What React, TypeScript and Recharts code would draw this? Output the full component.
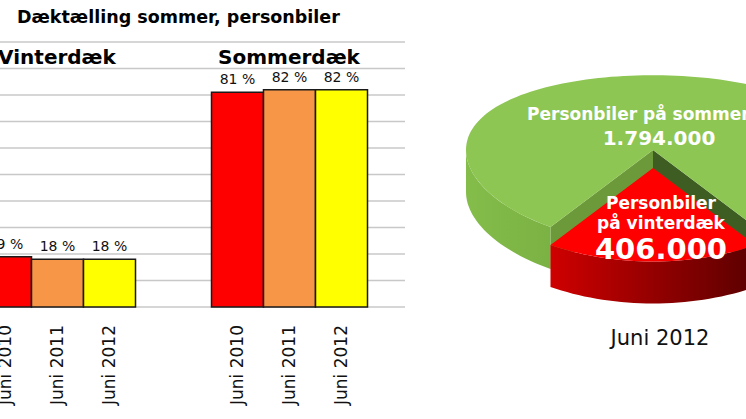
import { BarChart, Bar, XAxis, YAxis, CartesianGrid, LabelList, PieChart, Pie, Cell } from "recharts";

const TITLE = "Dæktælling sommer, personbiler";
const GROUPS = ["Vinterdæk", "Sommerdæk"];
const YEARS = ["Juni 2010", "Juni 2011", "Juni 2012"];
const SHARE_2010 = [19, 81];
const SHARE_2011 = [18, 82];
const SHARE_2012 = [18, 82];
const Y_TICKS = [0, 10, 20, 30, 40, 50, 60, 70, 80, 90, 100];

const PIE_NAMES = ["Personbiler på sommerdæk", "Personbiler på vinterdæk"];
const PIE_VALUES = [1794000, 406000];
const PIE_CAPTION = "Juni 2012";

const BAR_COLORS = ["#FF0000", "#F79646", "#FFFF00"];
const FONT = "'DejaVu Sans', Verdana, sans-serif";

const SLICE_STYLE = [
  { top: "#8DC652", side: ["#84bd4a", "#5c8b2e"], startFace: "#3e5d22", endFace: "#6c9a3b" },
  { top: "#FF0000", side: ["#ff0000", "#2a0000"], startFace: "#800000", endFace: "#800000" },
];

const barData = GROUPS.map((group, i) => ({
  group,
  y2010: SHARE_2010[i],
  y2011: SHARE_2011[i],
  y2012: SHARE_2012[i],
}));

const pieData = PIE_NAMES.map((name, i) => ({ name, value: PIE_VALUES[i] }));

// pseudo-3D pie: tilt, depth and explode for the exploded slice
const RAD = Math.PI / 180;
const K0 = 0.45;
const K1 = 0.05;
const DEPTH = 42;
const EXPLODE = 36;

function project(ox: number, oy: number, a: number, r: number, d = 0): [number, number] {
  const s = Math.sin(a * RAD);
  return [ox + r * Math.cos(a * RAD), oy - r * s * (K0 - K1 * s) + d];
}

function arc(ox: number, oy: number, r: number, a0: number, a1: number, d = 0) {
  const n = Math.max(2, Math.ceil(Math.abs(a1 - a0) / 2));
  const pts: [number, number][] = [];
  for (let i = 0; i <= n; i++) pts.push(project(ox, oy, a0 + ((a1 - a0) * i) / n, r, d));
  return pts;
}

function toPath(pts: [number, number][]) {
  return pts.map((p, i) => `${i ? "L" : "M"}${p[0].toFixed(2)},${p[1].toFixed(2)}`).join("") + "Z";
}

function frontRanges(a0: number, a1: number) {
  const out: [number, number][] = [];
  for (let n = -1; n <= 1; n++) {
    const lo = Math.max(a0, 180 + 360 * n);
    const hi = Math.min(a1, 360 + 360 * n);
    if (hi > lo) out.push([lo, hi]);
  }
  return out;
}

function sliceOrigin(cx: number, cy: number, mid: number, index: number): [number, number] {
  if (index !== 1) return [cx, cy];
  const [ex, ey] = project(0, 0, mid, EXPLODE);
  return [cx + ex, cy + ey];
}

function Slice3D(props: any) {
  const { cx, cy, outerRadius: r, startAngle, endAngle, index } = props;
  const a0 = Math.min(startAngle, endAngle);
  const a1 = Math.max(startAngle, endAngle);
  const [ox, oy] = sliceOrigin(cx, cy, (a0 + a1) / 2, index);
  const st = SLICE_STYLE[index] ?? SLICE_STYLE[0];
  const gid = `side-grad-${index}`;
  const face = (a: number) =>
    toPath([[ox, oy], project(ox, oy, a, r), project(ox, oy, a, r, DEPTH), [ox, oy + DEPTH]]);
  return (
    <g>
      <defs>
        <linearGradient id={gid} gradientUnits="userSpaceOnUse" x1={cx - r} y1={0} x2={cx + r} y2={0}>
          <stop offset="0%" stopColor={st.side[0]} />
          <stop offset="100%" stopColor={st.side[1]} />
        </linearGradient>
      </defs>
      {Math.cos(a0 * RAD) > 0 && <path d={face(a0)} fill={st.startFace} />}
      {Math.cos(a1 * RAD) < 0 && <path d={face(a1)} fill={st.endFace} />}
      {frontRanges(a0, a1).map(([lo, hi], i) => (
        <path
          key={i}
          d={toPath([...arc(ox, oy, r, lo, hi), ...arc(ox, oy, r, lo, hi, DEPTH).reverse()])}
          fill={`url(#${gid})`}
        />
      ))}
      <path d={toPath([[ox, oy], ...arc(ox, oy, r, a0, a1)])} fill={st.top} />
    </g>
  );
}

function formatDk(n: number) {
  return String(n).replace(/\B(?=(\d{3})+(?!\d))/g, ".");
}

function PieLabel(props: any) {
  const { cx, cy, midAngle, outerRadius, index } = props;
  const [ox, oy] = sliceOrigin(cx, cy, midAngle, index);
  const txt = { fill: "#fff", fontFamily: FONT, fontWeight: "bold", textAnchor: "middle" as const };
  if (index === 1) {
    const [x, y] = project(ox, oy, midAngle, outerRadius * 0.58);
    const name = PIE_NAMES[1];
    const cut = name.indexOf(" ");
    return (
      <g>
        <text {...txt} x={x + 8} y={y - 13} fontSize={17}>{name.slice(0, cut)}</text>
        <text {...txt} x={x + 8} y={y + 7} fontSize={17}>{name.slice(cut + 1)}</text>
        <text {...txt} x={x + 8} y={y + 37} fontSize={29}>{formatDk(PIE_VALUES[1])}</text>
      </g>
    );
  }
  const [x, y] = project(ox, oy, midAngle, outerRadius * 0.33);
  return (
    <g>
      <text {...txt} x={x + 6} y={y - 5} fontSize={17}>{PIE_NAMES[0]}</text>
      <text {...txt} x={x + 6} y={y + 20} fontSize={20}>{formatDk(PIE_VALUES[0])}</text>
    </g>
  );
}

function YearLabel(props: any) {
  const box = props.viewBox ?? props;
  const cx = box.x + box.width / 2;
  const bottom = box.y + box.height + 18;
  return (
    <text
      x={cx}
      y={bottom}
      dy="0.35em"
      transform={`rotate(-90, ${cx}, ${bottom})`}
      textAnchor="end"
      fontSize={17}
      fontFamily={FONT}
      fill="#111"
    >
      {props.text}
    </text>
  );
}

function GroupTick(props: any) {
  const { x, y, payload } = props;
  return (
    <text x={x} y={y} dy={30} textAnchor="middle" fontSize={20} fontWeight="bold" fontFamily={FONT} fill="#000">
      {payload.value}
    </text>
  );
}

const SERIES = ["y2010", "y2011", "y2012"];

export default function App() {
  return (
    <div
      style={{
        position: "absolute",
        left: 0,
        top: 0,
        width: 746,
        height: 419,
        overflow: "hidden",
        background: "#fff",
        fontFamily: FONT,
      }}
    >
      <div style={{ position: "absolute", left: 17, top: 7, fontSize: 17.5, lineHeight: "20px", fontWeight: "bold", whiteSpace: "nowrap" }}>
        {TITLE}
      </div>

      <div style={{ position: "absolute", left: -59, top: 0 }}>
        <BarChart
          width={464}
          height={419}
          data={barData}
          margin={{ top: 12, right: 0, bottom: 112, left: 0 }}
          barCategoryGap={38.5}
          barGap={0}
        >
          <CartesianGrid vertical={false} stroke="#c8c8c8" strokeWidth={1.5} />
          <XAxis dataKey="group" hide />
          <XAxis
            xAxisId="top"
            dataKey="group"
            orientation="top"
            height={30}
            axisLine={false}
            tickLine={false}
            tick={<GroupTick />}
          />
          <YAxis hide domain={[0, 100]} ticks={Y_TICKS} />
          {SERIES.map((key, i) => (
            <Bar
              key={key}
              dataKey={key}
              fill={BAR_COLORS[i]}
              stroke="#1a1a1a"
              strokeWidth={1.5}
              isAnimationActive={false}
            >
              <LabelList
                dataKey={key}
                position="top"
                offset={8}
                formatter={(v: any) => `${v} %`}
                fill="#111"
                fontSize={14}
                fontFamily={FONT}
              />
              <LabelList dataKey={key} content={(p: any) => <YearLabel {...p} text={YEARS[i]} />} />
            </Bar>
          ))}
        </BarChart>
      </div>

      <div style={{ position: "absolute", left: 440, top: 0 }}>
        <PieChart width={420} height={419} margin={{ top: 0, right: 0, bottom: 0, left: 0 }}>
          <Pie
            data={pieData}
            dataKey="value"
            nameKey="name"
            cx={213}
            cy={150}
            outerRadius={187}
            startAngle={-56.8}
            endAngle={303.2}
            stroke="none"
            shape={Slice3D}
            label={PieLabel}
            labelLine={false}
            isAnimationActive={false}
          >
            {pieData.map((d, i) => (
              <Cell key={d.name} fill={SLICE_STYLE[i].top} />
            ))}
          </Pie>
        </PieChart>
      </div>

      <div
        style={{
          position: "absolute",
          left: 560,
          top: 326,
          width: 200,
          textAlign: "center",
          fontSize: 21,
          lineHeight: "24px",
          color: "#111",
        }}
      >
        {PIE_CAPTION}
      </div>
    </div>
  );
}
